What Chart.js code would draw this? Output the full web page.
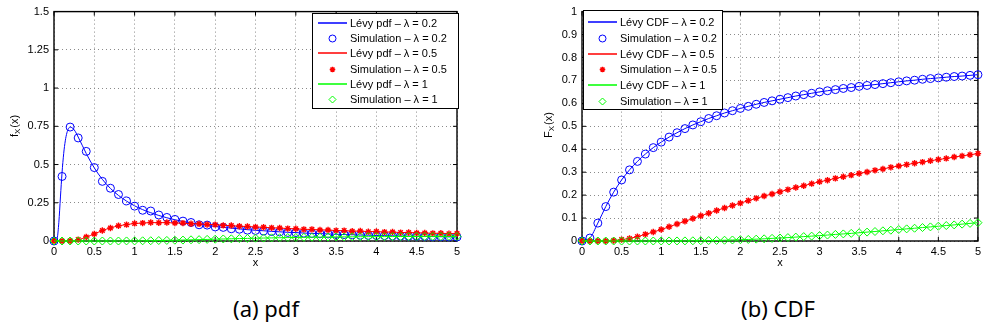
<!DOCTYPE html>
<html>
<head>
<meta charset="utf-8">
<script src="https://cdn.jsdelivr.net/npm/chart.js@4.4.0/dist/chart.umd.min.js"></script>
<style>
  body { margin: 0; background: #fff; width: 985px; height: 331px; overflow: hidden; position: relative; }
  canvas { position: absolute; top: 0; }
  .cap { position: absolute; top: 293px; font: 22px "Noto Sans", sans-serif; color: #000; white-space: nowrap; transform: translateX(-50%); }
</style>
</head>
<body>
<canvas id="pdf" width="470" height="275" style="left:0"></canvas>
<canvas id="cdf" width="465" height="275" style="left:520px"></canvas>
<div class="cap" style="left:266px">(a) pdf</div>
<div class="cap" style="left:778px">(b) CDF</div>
<script>
// x 取樣點 (0 ~ 5, 間隔 0.1)
const xGrid = [0, 0.1, 0.2, 0.3, 0.4, 0.5, 0.6, 0.7, 0.8, 0.9,
  1, 1.1, 1.2, 1.3, 1.4, 1.5, 1.6, 1.7, 1.8, 1.9,
  2, 2.1, 2.2, 2.3, 2.4, 2.5, 2.6, 2.7, 2.8, 2.9,
  3, 3.1, 3.2, 3.3, 3.4, 3.5, 3.6, 3.7, 3.8, 3.9,
  4, 4.1, 4.2, 4.3, 4.4, 4.5, 4.6, 4.7, 4.8, 4.9, 5];
// λ = 0.2 的 pdf 在峰值附近較陡, 理論曲線前段用較密的點
const xHead = [0, 0.02, 0.04, 0.06, 0.08, 0.1, 0.12, 0.14, 0.16, 0.18, 0.2, 0.25, 0.3];
const pdfHead02 = [0, 0, 0.017, 0.122, 0.288, 0.448, 0.571, 0.655, 0.707, 0.735, 0.745, 0.727, 0.680];

// pdf 理論值
const pdfLine02 = [0, 0.448, 0.745, 0.680, 0.572, 0.478, 0.403, 0.344, 0.298, 0.261,
  0.230, 0.205, 0.185, 0.167, 0.152, 0.139, 0.128, 0.118, 0.110, 0.102,
  0.095, 0.089, 0.084, 0.079, 0.074, 0.070, 0.067, 0.063, 0.060, 0.057,
  0.055, 0.052, 0.050, 0.048, 0.046, 0.044, 0.042, 0.041, 0.039, 0.038,
  0.036, 0.035, 0.034, 0.033, 0.032, 0.031, 0.030, 0.029, 0.028, 0.027, 0.026];
const pdfLine05 = [0, 0, 0.001, 0.008, 0.025, 0.047, 0.068, 0.086, 0.099, 0.108,
  0.114, 0.118, 0.120, 0.120, 0.120, 0.118, 0.116, 0.114, 0.111, 0.109,
  0.106, 0.103, 0.100, 0.097, 0.094, 0.092, 0.089, 0.087, 0.084, 0.082,
  0.079, 0.077, 0.075, 0.073, 0.071, 0.069, 0.067, 0.065, 0.064, 0.062,
  0.061, 0.059, 0.058, 0.056, 0.055, 0.054, 0.052, 0.051, 0.050, 0.049, 0.048];
const pdfLine1 = [0, 0, 0, 0, 0, 0, 0, 0, 0.0001, 0.0004,
  0.0007, 0.0012, 0.0019, 0.0028, 0.0039, 0.0050, 0.0063, 0.0076, 0.0090, 0.0104,
  0.0118, 0.0131, 0.0145, 0.0158, 0.0170, 0.0182, 0.0193, 0.0204, 0.0214, 0.0223,
  0.0231, 0.0239, 0.0247, 0.0253, 0.0259, 0.0265, 0.0270, 0.0274, 0.0279, 0.0283,
  0.0286, 0.0288, 0.0291, 0.0293, 0.0295, 0.0296, 0.0297, 0.0298, 0.0299, 0.0300, 0.0300];

// pdf 模擬值
const pdfSim02 = [0, 0.422, 0.745, 0.674, 0.586, 0.480, 0.390, 0.345, 0.304, 0.262,
  0.228, 0.201, 0.196, 0.170, 0.154, 0.141, 0.130, 0.121, 0.106, 0.104,
  0.092, 0.089, 0.080, 0.077, 0.071, 0.069, 0.065, 0.062, 0.059, 0.056,
  0.055, 0.051, 0.049, 0.047, 0.046, 0.043, 0.042, 0.040, 0.038, 0.037,
  0.036, 0.035, 0.033, 0.032, 0.031, 0.031, 0.030, 0.028, 0.028, 0.027, 0.026];
const pdfSim05 = [0, 0, 0.001, 0.009, 0.026, 0.046, 0.069, 0.085, 0.100, 0.107,
  0.115, 0.117, 0.121, 0.119, 0.121, 0.117, 0.117, 0.113, 0.112, 0.108,
  0.107, 0.102, 0.101, 0.096, 0.095, 0.091, 0.090, 0.086, 0.085, 0.081,
  0.080, 0.076, 0.076, 0.072, 0.072, 0.068, 0.068, 0.064, 0.065, 0.061,
  0.062, 0.058, 0.059, 0.055, 0.056, 0.053, 0.053, 0.050, 0.051, 0.048, 0.049];
const pdfSim1 = [0, 0, 0, 0, 0, 0, 0, 0, 0, 0.0005,
  0.0006, 0.0013, 0.0018, 0.0030, 0.0037, 0.0052, 0.0061, 0.0078, 0.0088, 0.0106,
  0.0116, 0.0133, 0.0143, 0.0160, 0.0168, 0.0184, 0.0191, 0.0206, 0.0212, 0.0225,
  0.0229, 0.0241, 0.0245, 0.0255, 0.0257, 0.0267, 0.0268, 0.0276, 0.0277, 0.0285,
  0.0284, 0.0290, 0.0289, 0.0295, 0.0293, 0.0298, 0.0295, 0.0300, 0.0297, 0.0302, 0.0298];

// CDF (理論與模擬重合)
const cdf02 = [0, 0.013, 0.078, 0.150, 0.213, 0.266, 0.310, 0.347, 0.379, 0.407,
  0.431, 0.453, 0.472, 0.490, 0.506, 0.520, 0.534, 0.546, 0.558, 0.568,
  0.578, 0.587, 0.596, 0.604, 0.611, 0.618, 0.625, 0.632, 0.638, 0.644,
  0.650, 0.655, 0.660, 0.665, 0.669, 0.674, 0.678, 0.682, 0.686, 0.690,
  0.694, 0.698, 0.701, 0.705, 0.708, 0.711, 0.714, 0.717, 0.719, 0.722, 0.725];
const cdf05 = [0, 0, 0, 0.0003, 0.002, 0.006, 0.011, 0.019, 0.029, 0.039,
  0.050, 0.062, 0.074, 0.086, 0.098, 0.110, 0.121, 0.133, 0.144, 0.155,
  0.165, 0.176, 0.186, 0.196, 0.205, 0.215, 0.224, 0.233, 0.241, 0.250,
  0.258, 0.265, 0.273, 0.280, 0.287, 0.294, 0.301, 0.308, 0.314, 0.321,
  0.327, 0.333, 0.339, 0.344, 0.350, 0.355, 0.360, 0.366, 0.371, 0.376, 0.381];
const cdf1 = [0, 0, 0, 0, 0, 0, 0, 0, 0, 0,
  0.0001, 0.0002, 0.0003, 0.0005, 0.0009, 0.0013, 0.0019, 0.0025, 0.0034, 0.0044,
  0.0056, 0.0067, 0.0081, 0.0096, 0.0114, 0.0131, 0.0149, 0.0170, 0.0192, 0.0213,
  0.0235, 0.0259, 0.0287, 0.0309, 0.0333, 0.0360, 0.0388, 0.0414, 0.0444, 0.0470,
  0.0500, 0.0529, 0.0557, 0.0587, 0.0615, 0.0645, 0.0673, 0.0702, 0.0735, 0.0767, 0.0799];

// 軸刻度
const xTicks = [0, 0.5, 1, 1.5, 2, 2.5, 3, 3.5, 4, 4.5, 5];
const yTicksPdf = [0, 0.25, 0.5, 0.75, 1, 1.25, 1.5];
const yTicksCdf = [0, 0.1, 0.2, 0.3, 0.4, 0.5, 0.6, 0.7, 0.8, 0.9, 1];
const lambdas = ['0.2', '0.5', '1'];

const BLUE = '#0000ff', RED = '#ff0000', GREEN = '#00ff00';
const FONT_FAMILY = '"Liberation Sans", Arial, sans-serif';

function pts(xs, ys) {
  return xs.map((x, i) => ({ x: x, y: ys[i] }));
}

// 理論曲線
function lineSet(label, data, color, order) {
  return {
    label: label, data: data, showLine: true, kind: 'line', color: color,
    borderColor: color, borderWidth: 1, pointRadius: 0, pointHoverRadius: 0,
    cubicInterpolationMode: 'monotone', clip: false, order: order
  };
}
// 模擬點
function simSet(label, data, color, style, r, order) {
  return {
    label: label, data: data, showLine: false, kind: 'marker', color: color,
    pointStyle: style, pointRadius: r, pointHoverRadius: r,
    pointBorderColor: color, pointBackgroundColor: 'rgba(0,0,0,0)',
    pointBorderWidth: style === 'star' ? 1.4 : 1,
    borderColor: color, clip: false, order: order
  };
}

// 圖例裡的 marker 自己畫
function drawMarker(ctx, style, x, y, r, color, lw) {
  ctx.save();
  ctx.strokeStyle = color;
  ctx.lineWidth = lw;
  ctx.beginPath();
  if (style === 'circle') {
    ctx.arc(x, y, r, 0, Math.PI * 2);
  } else if (style === 'rectRot') {
    ctx.moveTo(x - r, y); ctx.lineTo(x, y - r); ctx.lineTo(x + r, y); ctx.lineTo(x, y + r); ctx.closePath();
  } else if (style === 'star') {
    const d = r * Math.SQRT1_2;
    ctx.moveTo(x - r, y); ctx.lineTo(x + r, y);
    ctx.moveTo(x, y - r); ctx.lineTo(x, y + r);
    ctx.moveTo(x - d, y - d); ctx.lineTo(x + d, y + d);
    ctx.moveTo(x - d, y + d); ctx.lineTo(x + d, y - d);
  }
  ctx.stroke();
  ctx.restore();
}

// y 軸標題: f_X(x), 下標 X
function drawYTitle(ctx, x, cy, main) {
  const big = '11px ' + FONT_FAMILY, small = '8px ' + FONT_FAMILY;
  ctx.save();
  ctx.translate(x, cy);
  ctx.rotate(-Math.PI / 2);
  ctx.fillStyle = '#000';
  ctx.textBaseline = 'middle';
  ctx.font = big;
  const w1 = ctx.measureText(main).width, w3 = ctx.measureText('(x)').width;
  ctx.font = small;
  const w2 = ctx.measureText('X').width + 1;
  let px = -(w1 + w2 + w3) / 2;
  ctx.font = big; ctx.fillText(main, px, 0); px += w1;
  ctx.font = small; ctx.fillText('X', px, 3); px += w2;
  ctx.font = big; ctx.fillText('(x)', px, 0);
  ctx.restore();
}

// MATLAB 風格: 外框 + 向內刻度 + 標題 + 圖例
const matlabAxes = {
  id: 'matlabAxes',
  beforeDatasetsDraw(chart, args, opts) {
    const ctx = chart.ctx, a = chart.chartArea, sx = chart.scales.x, sy = chart.scales.y;
    const tl = 4;
    ctx.save();
    ctx.strokeStyle = '#000';
    ctx.lineWidth = 1;
    ctx.beginPath();
    sx.ticks.forEach(t => {
      const p = sx.getPixelForValue(t.value);
      ctx.moveTo(p, a.bottom); ctx.lineTo(p, a.bottom - tl);
      ctx.moveTo(p, a.top); ctx.lineTo(p, a.top + tl);
    });
    sy.ticks.forEach(t => {
      const p = sy.getPixelForValue(t.value);
      ctx.moveTo(a.left, p); ctx.lineTo(a.left + tl, p);
      ctx.moveTo(a.right, p); ctx.lineTo(a.right - tl, p);
    });
    ctx.stroke();
    ctx.lineWidth = 1.4;
    ctx.strokeRect(a.left, a.top, a.right - a.left, a.bottom - a.top);
    ctx.restore();
  },
  afterDraw(chart, args, opts) {
    const ctx = chart.ctx, a = chart.chartArea;
    // x 軸標題
    ctx.save();
    ctx.fillStyle = '#000';
    ctx.font = '11px ' + FONT_FAMILY;
    ctx.textAlign = 'center';
    ctx.textBaseline = 'middle';
    ctx.fillText('x', (a.left + a.right) / 2, opts.xTitleY);
    ctx.restore();
    drawYTitle(ctx, opts.yTitleX, opts.yTitleY, opts.yMain);

    // 圖例
    const lg = opts.legend;
    ctx.save();
    ctx.fillStyle = '#fff';
    ctx.fillRect(lg.left, lg.top, lg.width, lg.height);
    ctx.strokeStyle = '#000';
    ctx.lineWidth = 1;
    ctx.strokeRect(lg.left + 0.5, lg.top + 0.5, lg.width, lg.height);
    ctx.font = '11px ' + FONT_FAMILY;
    ctx.textBaseline = 'middle';
    ctx.textAlign = 'left';
    chart.data.datasets.forEach((ds, i) => {
      const y = Math.round(lg.top + lg.row0 + i * lg.step);
      if (ds.kind === 'line') {
        ctx.fillStyle = ds.color;
        ctx.fillRect(lg.left + lg.line0, y - 0.75, lg.line1 - lg.line0, 1.5);
      } else {
        drawMarker(ctx, ds.pointStyle, lg.left + (lg.line0 + lg.line1) / 2, y + 0.5,
          ds.pointStyle === 'star' ? 2.8 : ds.pointRadius - 0.5, ds.color, ds.pointBorderWidth);
      }
      ctx.fillStyle = '#000';
      ctx.fillText(ds.label, lg.left + lg.text, y + 0.5);
    });
    ctx.restore();
  }
};

function makeDatasets(kind, l02, l05, l1, s02, s05, s1) {
  const name = 'Lévy ' + kind + ' – λ = ';
  return [
    lineSet(name + lambdas[0], l02, BLUE, 6),
    simSet('Simulation – λ = ' + lambdas[0], s02, BLUE, 'circle', 4, 5),
    lineSet(name + lambdas[1], l05, RED, 4),
    simSet('Simulation – λ = ' + lambdas[1], s05, RED, 'star', 3.2, 3),
    lineSet(name + lambdas[2], l1, GREEN, 2),
    simSet('Simulation – λ = ' + lambdas[2], s1, GREEN, 'rectRot', 4, 1)
  ];
}

function makeOptions(yMax, yTicks, yWidth, padRight, plug) {
  const tickFont = { family: FONT_FAMILY, size: 11 };
  return {
    responsive: false,
    animation: false,
    devicePixelRatio: 1,
    events: [],
    layout: { padding: { left: 0, top: 9, right: padRight, bottom: 0 } },
    plugins: { legend: { display: false }, tooltip: { enabled: false }, matlabAxes: plug },
    scales: {
      x: {
        type: 'linear', min: 0, max: 5,
        afterBuildTicks: s => { s.ticks = xTicks.map(v => ({ value: v })); },
        afterFit: s => { s.height = 34; },
        ticks: { font: tickFont, color: '#000', padding: 4, maxRotation: 0, callback: v => String(v) },
        grid: { color: '#8a8a8a', lineWidth: 1, drawTicks: false },
        border: { display: false, dash: [1, 3] }
      },
      y: {
        type: 'linear', min: 0, max: yMax,
        afterBuildTicks: s => { s.ticks = yTicks.map(v => ({ value: v })); },
        afterFit: s => { s.width = yWidth; },
        ticks: { font: tickFont, color: '#000', padding: 5, callback: v => String(v) },
        grid: { color: '#8a8a8a', lineWidth: 1, drawTicks: false },
        border: { display: false, dash: [1, 3] }
      }
    }
  };
}

// 左圖 pdf
const bluePdfLine = pts(xHead, pdfHead02).concat(pts(xGrid, pdfLine02).filter(p => p.x > 0.3));
new Chart(document.getElementById('pdf'), {
  type: 'scatter',
  data: {
    datasets: makeDatasets('pdf',
      bluePdfLine, pts(xGrid, pdfLine05), pts(xGrid, pdfLine1),
      pts(xGrid, pdfSim02), pts(xGrid, pdfSim05), pts(xGrid, pdfSim1))
  },
  options: makeOptions(1.5, yTicksPdf, 54, 13, {
    xTitleY: 263, yTitleX: 15, yTitleY: 126, yMain: 'f',
    legend: { left: 312, top: 13, width: 146, height: 95, row0: 10, step: 15.2, line0: 6, line1: 35, text: 38 }
  }),
  plugins: [matlabAxes]
});

// 右圖 CDF
new Chart(document.getElementById('cdf'), {
  type: 'scatter',
  data: {
    datasets: makeDatasets('CDF',
      pts(xGrid, cdf02), pts(xGrid, cdf05), pts(xGrid, cdf1),
      pts(xGrid, cdf02), pts(xGrid, cdf05), pts(xGrid, cdf1))
  },
  options: makeOptions(1, yTicksCdf, 62, 2, {
    xTitleY: 263, yTitleX: 29, yTitleY: 125, yMain: 'F',
    legend: { left: 63, top: 10, width: 139, height: 99, row0: 12, step: 15.8, line0: 5, line1: 34, text: 37 }
  }),
  plugins: [matlabAxes]
});
</script>
</body>
</html>
